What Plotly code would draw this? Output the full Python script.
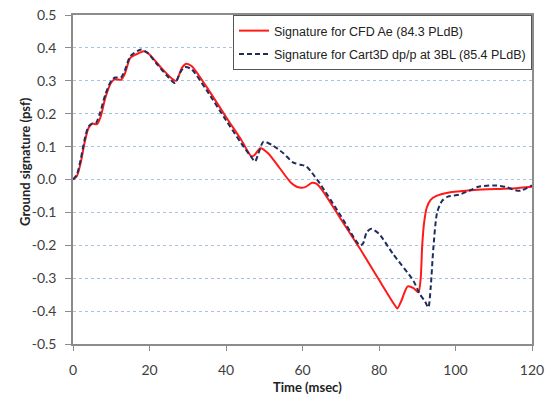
import plotly.graph_objects as go

# CFD Ae signature
t_cfd = [0, 1.0, 2.0, 3.0, 4.0, 5.0, 6.3, 7.2, 8.5, 10.0, 11.0, 12.5, 13.5, 15.0, 17.0, 18.5,
         20.0, 23.0, 26.0, 27.0, 28.5, 29.6, 31.0, 35.0, 40.0, 44.0, 46.7, 47.5, 49.0, 51.0,
         54.0, 57.0, 58.5, 60.5, 62.5, 63.5, 65.0, 70.0, 75.0, 80.0, 84.0, 84.8, 85.8, 87.5,
         89.0, 90.3, 90.9, 91.3, 91.8, 92.5, 93.5, 95.0, 98.0, 105.0, 115.0, 120.0]
p_cfd = [0, 0.01, 0.05, 0.11, 0.155, 0.17, 0.168, 0.19, 0.25, 0.295, 0.305, 0.303, 0.32, 0.37,
         0.383, 0.39, 0.38, 0.34, 0.305, 0.30, 0.34, 0.352, 0.345, 0.28, 0.19, 0.12, 0.07,
         0.075, 0.095, 0.08, 0.035, -0.01, -0.022, -0.024, -0.01, -0.012, -0.03, -0.12, -0.21,
         -0.305, -0.38, -0.392, -0.37, -0.325, -0.33, -0.343, -0.30, -0.20, -0.13, -0.085,
         -0.062, -0.05, -0.04, -0.032, -0.027, -0.022]

# Cart3D dp/p at 3BL signature
t_c3d = [0, 1, 2, 3, 4, 5, 6, 7, 8.5, 10, 11, 12.5, 13.5, 15, 17.8, 19.5, 22, 25, 26.7, 28,
         29.3, 31, 35, 40, 44, 46.5, 47.6, 48.5, 49.8, 52, 55, 57.5, 59.5, 61, 62.5, 64.6,
         70, 75, 75.8, 76.8, 78, 80, 83.7, 89, 90.7, 92.0, 92.9, 93.5, 94.2, 95.2, 96.5, 98,
         101, 104, 106, 110, 113, 115.5, 117, 120]
p_c3d = [0, 0.015, 0.06, 0.12, 0.16, 0.17, 0.172, 0.20, 0.26, 0.30, 0.31, 0.31, 0.33, 0.375,
         0.395, 0.385, 0.35, 0.31, 0.293, 0.325, 0.342, 0.335, 0.27, 0.18, 0.11, 0.07, 0.055,
         0.08, 0.115, 0.105, 0.08, 0.052, 0.045, 0.04, 0.02, -0.013, -0.11, -0.20, -0.195,
         -0.16, -0.15, -0.165, -0.227, -0.308, -0.349, -0.37, -0.389, -0.33, -0.21, -0.10,
         -0.065, -0.052, -0.046, -0.032, -0.022, -0.018, -0.022, -0.032, -0.034, -0.018]

x_ticks = [0, 20, 40, 60, 80, 100, 120]
y_ticks = [0.5, 0.4, 0.3, 0.2, 0.1, 0.0, -0.1, -0.2, -0.3, -0.4, -0.5]
y_tick_text = ["0.5", "0.4", "0.3", "0.2", "0.1", "0.0", "-0.1", "-0.2", "-0.3", "-0.4", "-0.5"]

fig = go.Figure()
fig.add_trace(go.Scatter(x=t_cfd, y=p_cfd, mode="lines", name="Signature for CFD Ae (84.3 PLdB)",
                         legendgroup="a",
                         line=dict(color="#ff1a1a", width=2, shape="spline", smoothing=0.7)))
fig.add_trace(go.Scatter(x=t_c3d, y=p_c3d, mode="lines",
                         name="Signature for Cart3D dp/p at 3BL (85.4 PLdB)",
                         legendgroup="b",
                         line=dict(color="#1f2d5e", width=2, dash="5px,3px", shape="spline",
                                   smoothing=0.7)))

axis_font = dict(family="Lato, Arial", size=14, color="#404040")
fig.update_layout(
    width=547, height=394,
    margin=dict(l=73, r=15, t=15, b=50, autoexpand=False),
    paper_bgcolor="white", plot_bgcolor="white",
    showlegend=True,
    legend=dict(x=1, y=1, xanchor="right", yanchor="top",
                bgcolor="white", bordercolor="#555555", borderwidth=1,
                font=dict(family="Liberation Sans, Arial", size=12.5, color="#222222"),
                traceorder="grouped", tracegroupgap=4),
    xaxis=dict(range=[0, 120], tickvals=x_ticks, ticks="outside", ticklen=5,
               tickcolor="#8c8c8c", showline=True, linecolor="#8c8c8c", linewidth=1.5,
               mirror=True, showgrid=False, zeroline=False, tickfont=axis_font,
               ticklabelstandoff=7, automargin=False),
    yaxis=dict(range=[-0.5, 0.5], tickvals=y_ticks, ticktext=y_tick_text, ticks="outside",
               ticklen=6, tickcolor="#8c8c8c", showline=True, linecolor="#8c8c8c",
               linewidth=1.5, mirror=True, showgrid=True, gridcolor="#a9c2df",
               griddash="dot", gridwidth=1, zeroline=False, tickfont=axis_font,
               ticklabelstandoff=6, automargin=False),
    annotations=[
        dict(text="<b>Time (msec)</b>", xref="paper", yref="paper", x=0.51, y=-0.13,
             yanchor="middle", xanchor="center", showarrow=False,
             font=dict(family="Lato, Arial", size=13, color="#222222")),
        dict(text="<b>Ground signature (psf)</b>", xref="paper", yref="paper", x=-0.105,
             y=0.556, textangle=-90, xanchor="center", yanchor="middle", showarrow=False,
             font=dict(family="Lato, Arial", size=13, color="#222222")),
    ],
)

fig.write_html("out.html")
